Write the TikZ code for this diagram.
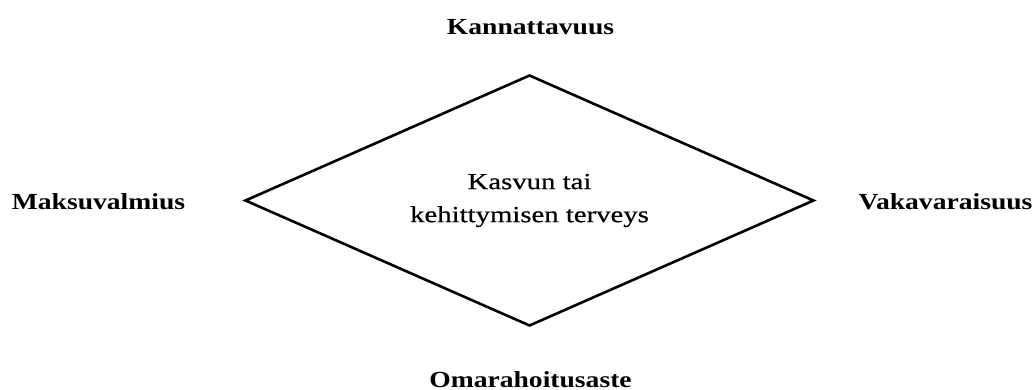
\documentclass[tikz,border=0pt]{standalone}
\usepackage{fontspec}
\setmainfont{Liberation Serif}
\newfontfamily\labelfont[FakeStretch=1.2]{Liberation Serif Bold}
\newfontfamily\centerfont[FakeStretch=1.25,FakeBold=0.6]{Liberation Serif}
\usetikzlibrary{shapes.geometric}
\begin{document}
\begin{tikzpicture}[x=1pt,y=-1pt,
  lbl/.style={anchor=base,inner sep=0pt,font=\labelfont\fontsize{23}{28}\selectfont},
  rhomb/.style={diamond,aspect=2.26,draw=black,line width=2.6pt,minimum width=568pt,minimum height=250pt,inner sep=0pt,outer sep=0pt,
    align=center,font=\centerfont\fontsize{23}{33}\selectfont}]
\useasboundingbox (0,0) rectangle (1035,390);
\node[rhomb] (d) at (529.5,200.5) {Kasvun tai\\kehittymisen terveys};
\node[lbl] (top) at (530.5,35) {Kannattavuus};
\node[lbl] (left) at (98.5,209) {Maksuvalmius};
\node[lbl] (right) at (945.5,209) {Vakavaraisuus};
\node[lbl] (bottom) at (530.5,387) {Omarahoitusaste};
\end{tikzpicture}
\end{document}
